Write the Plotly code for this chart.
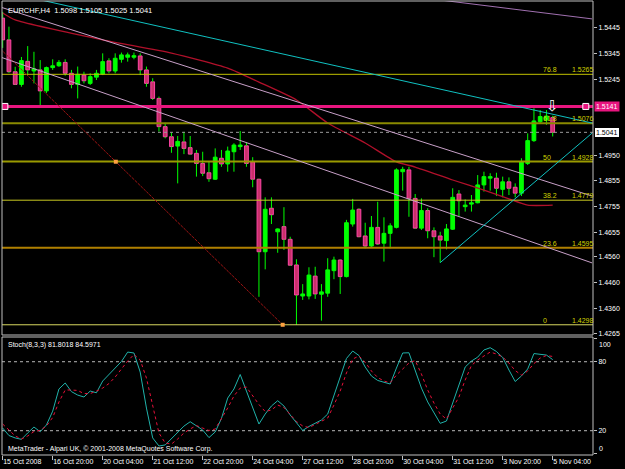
import plotly.graph_objects as go

# ---------------- data (EURCHF H4) ----------------
opens = [1.5482, 1.5398, 1.5275, 1.5226, 1.5315, 1.5278, 1.5282, 1.5201, 1.5291, 1.5298,
         1.5311, 1.5269, 1.5226, 1.5262, 1.5230, 1.5254, 1.5266, 1.5317, 1.5278, 1.5323,
         1.5331, 1.5331, 1.5336, 1.5282, 1.5236, 1.5172, 1.5063, 1.5024, 1.4988, 1.5004,
         1.4982, 1.4960, 1.4921, 1.4885, 1.4860, 1.4941, 1.4919, 1.4966, 1.4986, 1.4989,
         1.4927, 1.4860, 1.4580, 1.4748, 1.4657, 1.4677, 1.4628, 1.4529, 1.4409, 1.4409,
         1.4486, 1.4416, 1.4420, 1.4507, 1.4548, 1.4484, 1.4687, 1.4744, 1.4641, 1.4602,
         1.4674, 1.4613, 1.4651, 1.4674, 1.4889, 1.4896, 1.4786, 1.4671, 1.4739, 1.4661,
         1.4641, 1.4623, 1.4667, 1.4803, 1.4754, 1.4764, 1.4769, 1.4838, 1.4864, 1.4864,
         1.4821, 1.4850, 1.4829, 1.4806, 1.4921, 1.5009, 1.5082, 1.5089, 1.5098]
highs = [1.5506, 1.5449, 1.5294, 1.5332, 1.5374, 1.5352, 1.5320, 1.5295, 1.5323, 1.5320,
         1.5323, 1.5282, 1.5295, 1.5275, 1.5269, 1.5282, 1.5346, 1.5327, 1.5346, 1.5349,
         1.5349, 1.5349, 1.5346, 1.5295, 1.5250, 1.5179, 1.5078, 1.5040, 1.5027, 1.5043,
         1.5027, 1.4973, 1.4966, 1.4928, 1.4979, 1.4973, 1.4986, 1.4999, 1.5046, 1.5001,
         1.4945, 1.4862, 1.4790, 1.4790, 1.4670, 1.4752, 1.4638, 1.4551, 1.4455, 1.4520,
         1.4522, 1.4455, 1.4555, 1.4561, 1.4551, 1.4703, 1.4784, 1.4748, 1.4692, 1.4718,
         1.4773, 1.4713, 1.4690, 1.4902, 1.4908, 1.4908, 1.4803, 1.4786, 1.4748, 1.4674,
         1.4657, 1.4687, 1.4825, 1.4818, 1.4782, 1.4799, 1.4876, 1.4889, 1.4883, 1.4885,
         1.4870, 1.4867, 1.4844, 1.4941, 1.5037, 1.5134, 1.5127, 1.5127, 1.5105]
lows = [1.5367, 1.5270, 1.5224, 1.5217, 1.5262, 1.5230, 1.5140, 1.5193, 1.5282, 1.5294,
        1.5260, 1.5211, 1.5172, 1.5230, 1.5224, 1.5243, 1.5262, 1.5269, 1.5269, 1.5310,
        1.5314, 1.5323, 1.5262, 1.5217, 1.5166, 1.5044, 1.5018, 1.4962, 1.4844, 1.4957,
        1.4954, 1.4870, 1.4872, 1.4850, 1.4857, 1.4908, 1.4889, 1.4889, 1.4973, 1.4908,
        1.4829, 1.4406, 1.4512, 1.4687, 1.4576, 1.4587, 1.4525, 1.4298, 1.4394, 1.4396,
        1.4398, 1.4314, 1.4406, 1.4474, 1.4417, 1.4481, 1.4677, 1.4636, 1.4593, 1.4597,
        1.4606, 1.4542, 1.4593, 1.4670, 1.4816, 1.4715, 1.4668, 1.4664, 1.4632, 1.4559,
        1.4538, 1.4589, 1.4664, 1.4718, 1.4735, 1.4735, 1.4767, 1.4812, 1.4816, 1.4795,
        1.4790, 1.4799, 1.4790, 1.4795, 1.4915, 1.5004, 1.5076, 1.5070, 1.5025]
closes = [1.5398, 1.5275, 1.5226, 1.5318, 1.5282, 1.5286, 1.5201, 1.5291, 1.5298, 1.5311,
          1.5269, 1.5226, 1.5265, 1.5240, 1.5256, 1.5269, 1.5314, 1.5278, 1.5327, 1.5340,
          1.5340, 1.5337, 1.5282, 1.5230, 1.5172, 1.5063, 1.5024, 1.4986, 1.5006, 1.4979,
          1.4957, 1.4921, 1.4883, 1.4862, 1.4945, 1.4919, 1.4969, 1.4992, 1.4992, 1.4921,
          1.4860, 1.4580, 1.4744, 1.4723, 1.4668, 1.4628, 1.4528, 1.4413, 1.4417, 1.4490,
          1.4417, 1.4425, 1.4510, 1.4548, 1.4484, 1.4692, 1.4741, 1.4638, 1.4602, 1.4674,
          1.4610, 1.4651, 1.4680, 1.4896, 1.4898, 1.4786, 1.4671, 1.4739, 1.4661, 1.4638,
          1.4625, 1.4668, 1.4790, 1.4777, 1.4760, 1.4769, 1.4838, 1.4870, 1.4870, 1.4825,
          1.4850, 1.4825, 1.4806, 1.4928, 1.5009, 1.5085, 1.5102, 1.5104, 1.5041]

stoch_k = [22.3, 15.8, 13.7, 12.5, 18, 23.2, 19.1, 25, 37, 56.3,
           61.5, 54, 51, 49.3, 54.5, 53, 63.2, 69, 74.5, 80.2,
           88.4, 87.6, 71, 39.7, 13.7, 6.7, 7.6, 12.8, 18, 24,
           27.8, 24, 20.6, 14, 18.9, 30.6, 48.4, 56.3, 68.9, 54.5,
           39.7, 25.8, 34.5, 41.5, 46.1, 41.5, 33.7, 26.7, 20.2, 23.7,
           26.3, 29.3, 34.5, 50.2, 65.8, 82.8, 89.3, 85.4, 75.4, 67.6,
           63.7, 62, 60.6, 74.5, 87.6, 87.8, 72.3, 57.1, 45, 35.8,
           26.4, 28.4, 44.1, 59.7, 75.4, 80.6, 84, 90.2, 92.2, 88.9,
           83.7, 72.8, 62.8, 67.6, 73.7, 87.1, 86.7, 85.8, 81.8018]
stoch_d = [25.8, 20.6, 15.4, 12.8, 15.4, 19.3, 20.2, 24.1, 31.5, 45,
           55.4, 55.4, 55, 52.3, 52.3, 54.5, 57.1, 61, 66.7, 73.7,
           80.6, 86.3, 81.5, 65.8, 43.2, 18, 9.3, 8.4, 12.8, 18,
           21.5, 24.5, 22.3, 20.2, 21.5, 30.2, 39.7, 50.2, 57.1, 58,
           50.2, 42.8, 36.7, 38, 42.3, 40.2, 34.1, 28, 24.1, 22.8,
           25.4, 28, 31, 42.3, 54.5, 70.2, 82.3, 85, 79.7, 71.9,
           66.3, 63.2, 61.7, 68.4, 73.7, 78.9, 81, 69.3, 55.4, 44.1,
           34.5, 30.2, 39.7, 49.3, 64.1, 76.7, 81.5, 85, 88.4, 86.7,
           84.1, 78.9, 72.3, 68.4, 71.9, 78.4, 83.2, 85.4, 84.5971]

ma_idx = [0, 2, 16, 27, 36, 41, 47, 52, 58, 63, 66, 72, 77, 81, 84, 88]
ma_val = [1.5502, 1.5475, 1.5398, 1.5347, 1.5289, 1.5235, 1.5166, 1.5077, 1.5000,
          1.4927, 1.4907, 1.4857, 1.4818, 1.4784, 1.4760, 1.4760]

time_tick_idx = [0, 8, 16, 24, 32, 40, 48, 56, 64, 72, 80, 88]
time_tick_labels = ["15 Oct 2008", "16 Oct 20:00", "20 Oct 04:00", "21 Oct 12:00",
                    "22 Oct 20:00", "24 Oct 04:00", "27 Oct 12:00", "28 Oct 20:00",
                    "30 Oct 04:00", "31 Oct 12:00", "3 Nov 20:00", "5 Nov 04:00"]
price_tick_vals = [1.5445, 1.5345, 1.5245, 1.4950, 1.4855, 1.4755, 1.4655,
                   1.4560, 1.4460, 1.4360, 1.4265]

fib_levels = ["0", "23.6", "38.2", "50", "61.8", "76.8"]
fib_prices = [1.4298, 1.4595, 1.4779, 1.4928, 1.5076, 1.5265]
fib_anchor_idx = [-8.6, 44.8]
fib_anchor_price = [1.5557, 1.4298]

resistance_price = 1.5141
bid_price = 1.5041

# trend lines: (bar index pair, price pair)
cyan_down_idx, cyan_down_price = [0, 94.3], [1.5585, 1.5077]
cyan_up_idx, cyan_up_price = [70, 94.3], [1.4538, 1.5038]
lav_upper_idx, lav_upper_price = [-0.4, 94.3], [1.5525, 1.4795]
lav_lower_idx, lav_lower_price = [-0.4, 94.3], [1.5332, 1.4537]
purple_idx, purple_price = [60, 94.3], [1.5582, 1.5479]

header_text = "EURCHF,H4  1.5098 1.5105 1.5025 1.5041"
stoch_text = "Stoch(8,3,3) 81.8018 84.5971"
copyright_text = "MetaTrader - Alpari UK, © 2001-2008 MetaQuotes Software Corp."

# ---------------- styles ----------------
BULL = "#00ff00"
BEAR_FILL = "#c8306a"
BEAR_LINE = "#ff45a6"
FIB_LINE_COLORS = ["#d8d860", "#b08000", "#c8c820", "#9a9a00", "#8a8a00", "#c0c000"]
FIB_LINE_WIDTHS = [1, 2, 1, 2, 2, 1]
FIB_TEXT = "#d0d000"
MAGENTA = "#e8157f"
X_RANGE = [-0.112, 94.45]
FONT = "Liberation Sans"

bars = list(range(len(opens)))

fig = go.Figure()

# wicks (split so they do not cross the bodies)
wx, wy = [], []
for i, (o, h, l, c) in enumerate(zip(opens, highs, lows, closes)):
    top, bot = max(o, c), min(o, c)
    wx += [i, i, None, i, i, None]
    wy += [h, top, None, bot, l, None]
fig.add_trace(go.Scatter(x=wx, y=wy, mode="lines", line=dict(color=BULL, width=1),
                         hoverinfo="skip", xaxis="x", yaxis="y"))

# bodies
fig.add_trace(go.Bar(
    x=bars, y=[abs(c - o) for o, c in zip(opens, closes)],
    base=[min(o, c) for o, c in zip(opens, closes)], width=0.6,
    marker=dict(color=[BULL if c >= o else BEAR_FILL for o, c in zip(opens, closes)],
                line=dict(color=[BULL if c >= o else BEAR_LINE for o, c in zip(opens, closes)], width=1)),
    xaxis="x", yaxis="y", hoverinfo="skip"))

# moving average
fig.add_trace(go.Scatter(x=ma_idx, y=ma_val, mode="lines",
                         line=dict(color="#b0102a", width=1.3, shape="spline", smoothing=0.6),
                         xaxis="x", yaxis="y", hoverinfo="skip"))

def hline(price, color, width, dash=None):
    fig.add_trace(go.Scatter(x=X_RANGE, y=[price, price], mode="lines",
                             line=dict(color=color, width=width, dash=dash),
                             xaxis="x", yaxis="y", hoverinfo="skip"))

# fib levels
for p, col, w in zip(fib_prices, FIB_LINE_COLORS, FIB_LINE_WIDTHS):
    hline(p, col, w)
hline(bid_price, "#9a9a9a", 1, "dot")
hline(resistance_price, MAGENTA, 3)

# fib diagonal
fig.add_trace(go.Scatter(x=fib_anchor_idx, y=fib_anchor_price, mode="lines",
                         line=dict(color="#a01414", width=1, dash="3px,1px"),
                         xaxis="x", yaxis="y", hoverinfo="skip"))
fig.add_trace(go.Scatter(x=[sum(fib_anchor_idx) / 2, fib_anchor_idx[1]],
                         y=[sum(fib_anchor_price) / 2, fib_anchor_price[1]], mode="markers",
                         marker=dict(symbol="square", size=4, color="#ffa040"),
                         xaxis="x", yaxis="y", hoverinfo="skip"))

# trend lines
for xs, ys, col in [(lav_upper_idx, lav_upper_price, "#c8a0c8"),
                    (lav_lower_idx, lav_lower_price, "#c8a0c8"),
                    (purple_idx, purple_price, "#a070b0"),
                    (cyan_down_idx, cyan_down_price, "#10c0c0"),
                    (cyan_up_idx, cyan_up_price, "#10c0c0")]:
    fig.add_trace(go.Scatter(x=xs, y=ys, mode="lines", line=dict(color=col, width=1),
                             xaxis="x", yaxis="y", hoverinfo="skip"))

# markers on the magenta line
fig.add_trace(go.Scatter(x=[0.35, 93.3], y=[resistance_price, resistance_price], mode="markers",
                         marker=dict(symbol="square", size=6, color=MAGENTA, line=dict(color="white", width=1)),
                         xaxis="x", yaxis="y", hoverinfo="skip"))

# stochastic
for lvl in (20, 80):
    fig.add_trace(go.Scatter(x=X_RANGE, y=[lvl, lvl], mode="lines",
                             line=dict(color="#b8b8b8", width=1, dash="3px,3px"),
                             xaxis="x2", yaxis="y2", hoverinfo="skip"))
fig.add_trace(go.Scatter(x=bars, y=stoch_k, mode="lines", line=dict(color="#20b2aa", width=1),
                         xaxis="x2", yaxis="y2", hoverinfo="skip"))
fig.add_trace(go.Scatter(x=bars, y=stoch_d, mode="lines", line=dict(color="#e8103a", width=1, dash="dot"),
                         xaxis="x2", yaxis="y2", hoverinfo="skip"))

# ---------------- annotations ----------------
ann = []
ann.append(dict(text=header_text, xref="paper", yref="paper", x=0.006, y=0.980, xanchor="left",
                yanchor="middle", showarrow=False, font=dict(size=7.5, color="white", family=FONT)))
ann.append(dict(text=stoch_text, xref="paper", yref="paper", x=0.006, y=0.2423, xanchor="left",
                yanchor="middle", showarrow=False, font=dict(size=7, color="white", family=FONT)))
ann.append(dict(text=copyright_text, xref="paper", yref="paper", x=0.006, y=0.0132, xanchor="left",
                yanchor="middle", showarrow=False, font=dict(size=7, color="white", family=FONT)))
for lvl, p in zip(fib_levels, fib_prices):
    ann.append(dict(text=lvl, xref="paper", yref="y", x=0.9137, y=p, xanchor="left", yanchor="bottom",
                    showarrow=False, borderpad=0, font=dict(size=7, color=FIB_TEXT, family=FONT)))
    ann.append(dict(text=f"{p:.4f}", xref="paper", yref="y", x=0.9628, y=p, xanchor="left", yanchor="bottom",
                    showarrow=False, borderpad=0, font=dict(size=7, color=FIB_TEXT, family=FONT)))
ann.append(dict(text=f"{resistance_price:.4f}", xref="paper", yref="y", x=1.0, y=resistance_price,
                xanchor="left", yanchor="middle", showarrow=False, bgcolor=MAGENTA, borderpad=1, xshift=1,
                font=dict(size=7, color="white", family=FONT)))
ann.append(dict(text=f"{bid_price:.4f}", xref="paper", yref="y", x=1.0, y=bid_price,
                xanchor="left", yanchor="middle", showarrow=False, bgcolor="white", bordercolor="black",
                borderpad=1, xshift=1, font=dict(size=7, color="black", family=FONT)))
ann.append(dict(text="100", xref="paper", yref="y2", x=1.0, y=100, xanchor="left", yanchor="top",
                xshift=4, showarrow=False, font=dict(size=7, color="white", family=FONT)))
ann.append(dict(text="0", xref="paper", yref="y2", x=1.0, y=0, xanchor="left", yanchor="bottom",
                xshift=4, showarrow=False, font=dict(size=7, color="white", family=FONT)))
ann.append(dict(text="⇩", xref="x", yref="y", x=88, y=resistance_price, xanchor="center", yanchor="middle",
                showarrow=False, font=dict(size=15, color="white", family="DejaVu Sans")))

MAIN_DOM = [0.2643, 1.0]
STOCH_DOM = [0.0, 0.2599]
shapes = [
    dict(type="rect", xref="paper", yref="paper", x0=0, x1=1, y0=MAIN_DOM[0], y1=MAIN_DOM[1],
         line=dict(color="#c0c0c0", width=1), layer="above"),
    dict(type="rect", xref="paper", yref="paper", x0=0, x1=1, y0=STOCH_DOM[0], y1=STOCH_DOM[1],
         line=dict(color="#c0c0c0", width=1), layer="above"),
]

fig.update_layout(
    width=625, height=469, margin=dict(l=2, r=32, t=1, b=14),
    paper_bgcolor="black", plot_bgcolor="black", showlegend=False, barmode="overlay",
    font=dict(family=FONT, size=7, color="white"),
    annotations=ann, shapes=shapes,
    xaxis=dict(domain=[0, 1], anchor="y", range=X_RANGE, showticklabels=False, showgrid=False,
               zeroline=False, ticks=""),
    xaxis2=dict(domain=[0, 1], anchor="y2", matches="x", range=X_RANGE, tickvals=time_tick_idx,
                ticktext=time_tick_labels, ticks="outside", ticklen=4, tickcolor="#c0c0c0",
                ticklabelposition="outside right", showgrid=False, zeroline=False,
                tickfont=dict(size=7, color="white", family=FONT)),
    yaxis=dict(domain=MAIN_DOM, anchor="x", side="right", range=[1.42585, 1.55481],
               tickvals=price_tick_vals, ticktext=[f"{v:.4f}" for v in price_tick_vals],
               ticks="outside", ticklen=3, tickcolor="#c0c0c0", showgrid=False, zeroline=False,
               tickfont=dict(size=7, color="white", family=FONT)),
    yaxis2=dict(domain=STOCH_DOM, anchor="x2", side="right", range=[-1.13, 101.5],
                tickvals=[0, 20, 80, 100], ticktext=["", "20", "80", ""],
                ticks="outside", ticklen=3, tickcolor="#c0c0c0", showgrid=False, zeroline=False,
                tickfont=dict(size=7, color="white", family=FONT)),
)

fig.write_html("out.html")
